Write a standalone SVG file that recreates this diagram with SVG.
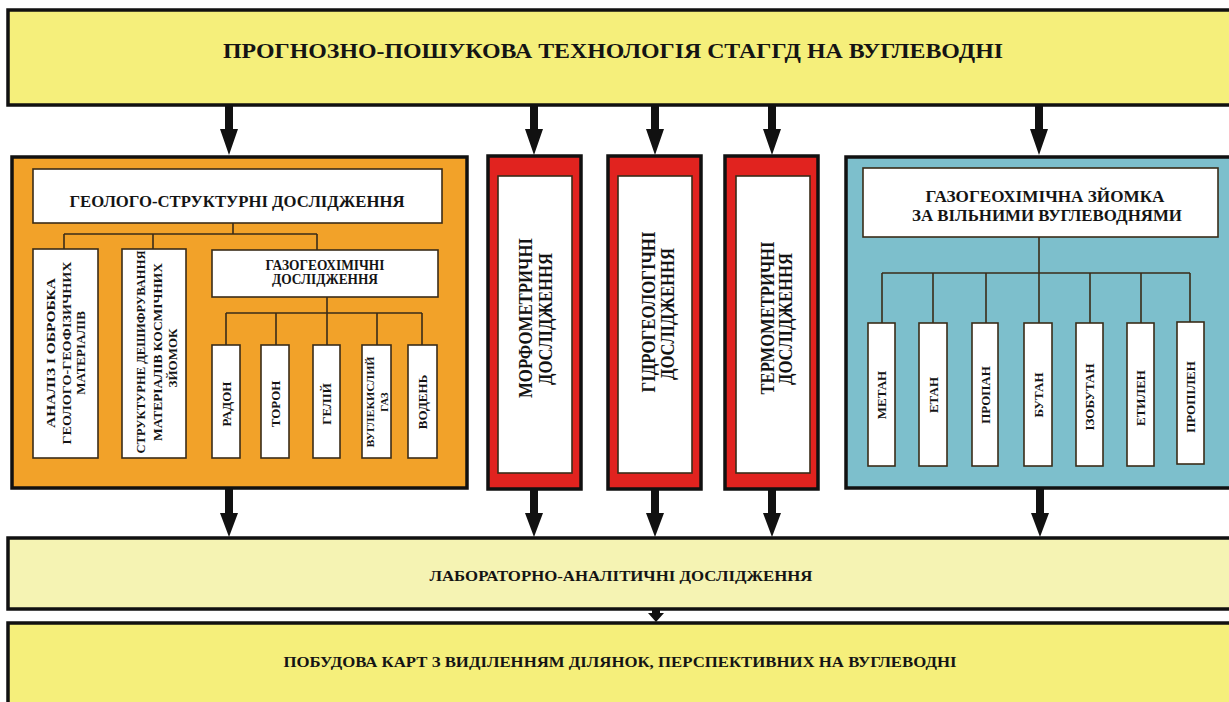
<svg xmlns="http://www.w3.org/2000/svg" width="1229" height="702" viewBox="0 0 1229 702">
<style>
  .t { font-family: "Liberation Serif", "Times New Roman", serif; font-weight: bold; fill: #141414; text-anchor: middle; }
  .box { stroke: #111; stroke-width: 3.5; }
  .wb { fill: #ffffff; stroke: #3a2c18; stroke-width: 1.6; }
  .ln { fill: none; stroke: #3a2c18; stroke-width: 1.6; }
  .arr { fill: #111; }
</style>
<rect x="0" y="0" width="1229" height="702" fill="#ffffff"/>

<g id="top">
  <rect class="box" x="8" y="10" width="1240" height="95" fill="#f5ef7b"/>
  <text class="t" x="613" y="58" font-size="21" textLength="780" lengthAdjust="spacingAndGlyphs">ПРОГНОЗНО-ПОШУКОВА ТЕХНОЛОГІЯ СТАГГД НА ВУГЛЕВОДНІ</text>
</g>

<g id="geo">
  <rect class="box" x="12" y="157" width="455" height="331" fill="#f2a229"/>
  <rect class="wb" x="33" y="169" width="409" height="54"/>
  <text class="t" x="237" y="207" font-size="17.5" textLength="335" lengthAdjust="spacingAndGlyphs">ГЕОЛОГО-СТРУКТУРНІ ДОСЛІДЖЕННЯ</text>
</g>
<g id="analiz">
  <rect class="wb" x="33" y="249" width="65" height="209"/>
  <text class="t" font-size="13" transform="translate(54.5,353) rotate(-90)" textLength="150" lengthAdjust="spacingAndGlyphs">АНАЛІЗ І ОБРОБКА</text>
  <text class="t" font-size="13" transform="translate(70.5,353) rotate(-90)" textLength="183" lengthAdjust="spacingAndGlyphs">ГЕОЛОГО-ГЕОФІЗИЧНИХ</text>
  <text class="t" font-size="13" transform="translate(85,353) rotate(-90)">МАТЕРІАЛІВ</text>
</g>
<g id="struct">
  <rect class="wb" x="122" y="249" width="64" height="209"/>
  <text class="t" font-size="13" transform="translate(144.5,352) rotate(-90)" textLength="203" lengthAdjust="spacingAndGlyphs">СТРУКТУРНЕ ДЕШИФРУВАННЯ</text>
  <text class="t" font-size="13" transform="translate(161.5,352) rotate(-90)" textLength="178" lengthAdjust="spacingAndGlyphs">МАТЕРІАЛІВ КОСМІЧНИХ</text>
  <text class="t" font-size="13" transform="translate(176.5,358) rotate(-90)">ЗЙОМОК</text>
</g>
<g id="gazo">
  <rect class="wb" x="212" y="250" width="226" height="47"/>
  <text class="t" x="325" y="270" font-size="14" textLength="119" lengthAdjust="spacingAndGlyphs">ГАЗОГЕОХІМІЧНІ</text>
  <text class="t" x="325" y="284" font-size="14" textLength="106" lengthAdjust="spacingAndGlyphs">ДОСЛІДЖЕННЯ</text>
</g>
<g id="radon">
  <rect class="wb" x="212" y="345" width="28" height="113"/>
  <text class="t" font-size="13" transform="translate(230.5,404) rotate(-90)">РАДОН</text>
</g>
<g id="toron">
  <rect class="wb" x="261" y="345" width="28" height="113"/>
  <text class="t" font-size="13" transform="translate(279.5,404) rotate(-90)">ТОРОН</text>
</g>
<g id="helium">
  <rect class="wb" x="313" y="345" width="27" height="113"/>
  <text class="t" font-size="13" transform="translate(331,404) rotate(-90)">ГЕЛІЙ</text>
</g>
<g id="co2">
  <rect class="wb" x="362" y="345" width="29" height="113"/>
  <text class="t" font-size="11" transform="translate(374,402) rotate(-90)" textLength="91" lengthAdjust="spacingAndGlyphs">ВУГЛЕКИСЛИЙ</text>
  <text class="t" font-size="11" transform="translate(387.5,402) rotate(-90)">ГАЗ</text>
</g>
<g id="voden">
  <rect class="wb" x="408" y="345" width="29" height="113"/>
  <text class="t" font-size="13" transform="translate(427,402) rotate(-90)">ВОДЕНЬ</text>
</g>

<g id="morf">
  <rect class="box" x="488" y="156" width="93" height="333" fill="#e1231f"/>
  <rect class="wb" x="498" y="176" width="74" height="297" stroke="#4a1a1a"/>
  <text class="t" font-size="19" transform="translate(531.5,318) rotate(-90)" textLength="160" lengthAdjust="spacingAndGlyphs">МОРФОМЕТРИЧНІ</text>
  <text class="t" font-size="19" transform="translate(551.5,319) rotate(-90)" textLength="132" lengthAdjust="spacingAndGlyphs">ДОСЛІДЖЕННЯ</text>
</g>
<g id="hydro">
  <rect class="box" x="608" y="156" width="93" height="333" fill="#e1231f"/>
  <rect class="wb" x="618" y="176" width="74" height="297" stroke="#4a1a1a"/>
  <text class="t" font-size="19" transform="translate(654.5,312) rotate(-90)" textLength="161" lengthAdjust="spacingAndGlyphs">ГІДРОГЕОЛОГІЧНІ</text>
  <text class="t" font-size="19" transform="translate(673.5,314) rotate(-90)" textLength="132" lengthAdjust="spacingAndGlyphs">ДОСЛІДЖЕННЯ</text>
</g>
<g id="thermo">
  <rect class="box" x="725" y="156" width="93" height="333" fill="#e1231f"/>
  <rect class="wb" x="736" y="176" width="74" height="297" stroke="#4a1a1a"/>
  <text class="t" font-size="19" transform="translate(773.5,318) rotate(-90)" textLength="153" lengthAdjust="spacingAndGlyphs">ТЕРМОМЕТРИЧНІ</text>
  <text class="t" font-size="19" transform="translate(791.5,319) rotate(-90)" textLength="132" lengthAdjust="spacingAndGlyphs">ДОСЛІДЖЕННЯ</text>
</g>

<g id="gasvilni">
  <rect class="box" x="846" y="157" width="400" height="331" fill="#7dbfcc"/>
  <rect class="wb" x="863" y="168" width="355" height="69"/>
  <text class="t" x="1045" y="202" font-size="17.5" textLength="239" lengthAdjust="spacingAndGlyphs">ГАЗОГЕОХІМІЧНА ЗЙОМКА</text>
  <text class="t" x="1047" y="221" font-size="17.5" textLength="270" lengthAdjust="spacingAndGlyphs">ЗА ВІЛЬНИМИ ВУГЛЕВОДНЯМИ</text>
</g>
<g id="metan">
  <rect class="wb" x="868" y="323" width="27" height="143"/>
  <text class="t" font-size="13" transform="translate(886,395) rotate(-90)">МЕТАН</text>
</g>
<g id="etan">
  <rect class="wb" x="919" y="323" width="28" height="143"/>
  <text class="t" font-size="13" transform="translate(937.5,395) rotate(-90)">ЕТАН</text>
</g>
<g id="propan">
  <rect class="wb" x="972" y="323" width="26" height="143"/>
  <text class="t" font-size="13" transform="translate(989.5,395) rotate(-90)">ПРОПАН</text>
</g>
<g id="butan">
  <rect class="wb" x="1024" y="323" width="28" height="143"/>
  <text class="t" font-size="13" transform="translate(1042.5,395) rotate(-90)">БУТАН</text>
</g>
<g id="izobutan">
  <rect class="wb" x="1076" y="323" width="27" height="143"/>
  <text class="t" font-size="13" transform="translate(1094,397) rotate(-90)">ІЗОБУТАН</text>
</g>
<g id="etylen">
  <rect class="wb" x="1127" y="323" width="27" height="143"/>
  <text class="t" font-size="13" transform="translate(1145,398) rotate(-90)">ЕТИЛЕН</text>
</g>
<g id="propilen">
  <rect class="wb" x="1177" y="322" width="27" height="142"/>
  <text class="t" font-size="13" transform="translate(1195,397) rotate(-90)">ПРОПІЛЕН</text>
</g>

<g id="lab">
  <rect class="box" x="8" y="538" width="1240" height="71" fill="#f5f3b3"/>
  <text class="t" x="621" y="581" font-size="14.5" textLength="383" lengthAdjust="spacingAndGlyphs">ЛАБОРАТОРНО-АНАЛІТИЧНІ ДОСЛІДЖЕННЯ</text>
</g>
<g id="maps">
  <rect class="box" x="8" y="623" width="1240" height="100" fill="#f5ef7b"/>
  <text class="t" x="620" y="667" font-size="14.5" textLength="673" lengthAdjust="spacingAndGlyphs">ПОБУДОВА КАРТ З ВИДІЛЕННЯМ ДІЛЯНОК, ПЕРСПЕКТИВНИХ НА ВУГЛЕВОДНІ</text>
</g>

<g id="connectors">
  <path class="ln" d="M233 223 V234 M64 234 H317 M64 234 V249 M153 234 V249 M317 234 V250"/>
  <path class="ln" d="M327 297 V313 M226 313 H422 M226 313 V345 M276 313 V345 M327 313 V345 M377 313 V345 M422 313 V345"/>
  <path class="ln" d="M1039 237 V273 M882 273 H1190 M882 273 V323 M933 273 V323 M986 273 V323 M1039 273 V323 M1090 273 V323 M1141 273 V323 M1190 273 V322"/>
  <path class="arr" d="M225 105 H233 V129 H238 L229 155 L220 129 H225 Z"/>
  <path class="arr" d="M530 105 H538 V129 H543 L534 155 L525 129 H530 Z"/>
  <path class="arr" d="M651 105 H659 V129 H664 L655 155 L646 129 H651 Z"/>
  <path class="arr" d="M768 105 H776 V129 H781 L772 155 L763 129 H768 Z"/>
  <path class="arr" d="M1035 105 H1043 V129 H1048 L1039 155 L1030 129 H1035 Z"/>
  <path class="arr" d="M225 488 H233 V513 H238 L229 537 L220 513 H225 Z"/>
  <path class="arr" d="M530 489 H538 V513 H543 L534 537 L525 513 H530 Z"/>
  <path class="arr" d="M651 489 H659 V513 H664 L655 537 L646 513 H651 Z"/>
  <path class="arr" d="M768 489 H776 V513 H781 L772 537 L763 513 H768 Z"/>
  <path class="arr" d="M1036 488 H1044 V513 H1049 L1040 537 L1031 513 H1036 Z"/>
  <path class="arr" d="M652 609 H660 V613 H664 L656 622 L648 613 H652 Z"/>
</g>
</svg>
